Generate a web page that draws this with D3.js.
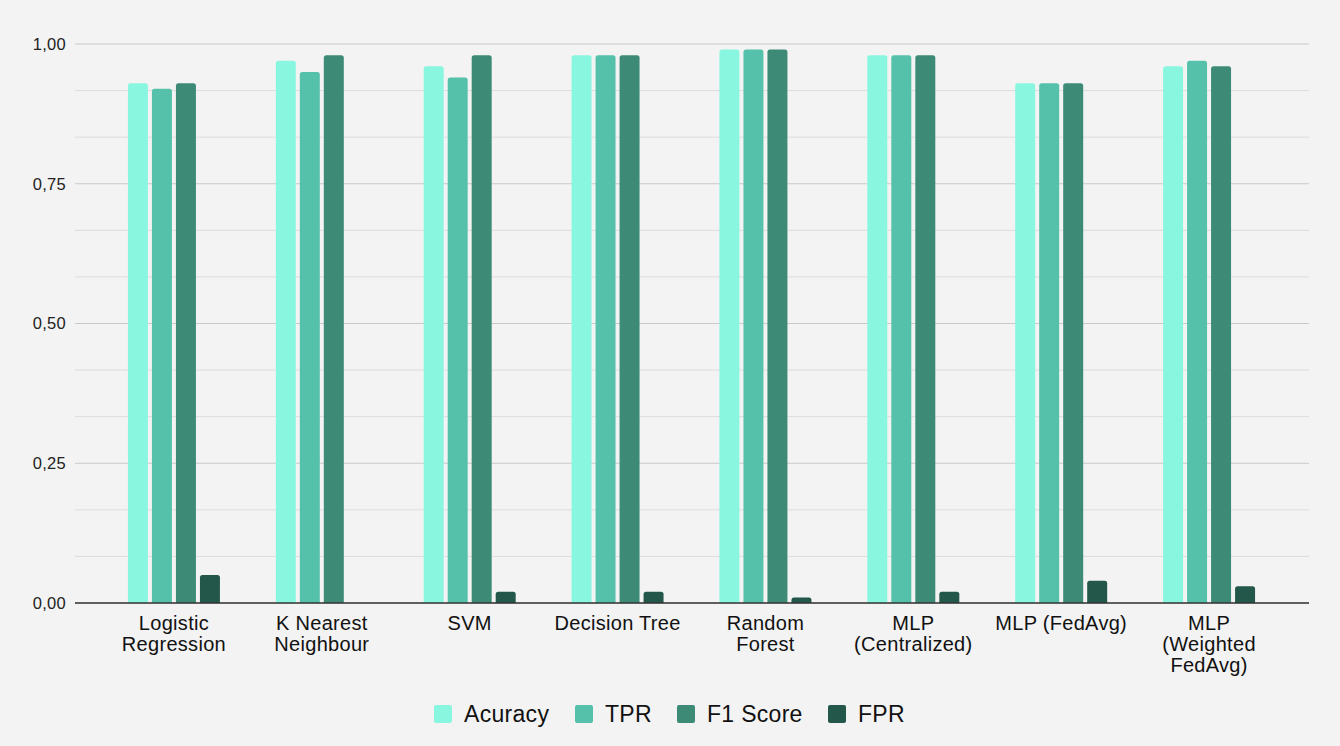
<!DOCTYPE html>
<html>
<head>
<meta charset="utf-8">
<script src="https://cdn.jsdelivr.net/npm/d3@7"></script>
<style>
  body { margin: 0; background: #f3f3f3; }
  svg { display: block; font-family: "Liberation Sans", Arial, sans-serif; }
</style>
</head>
<body>
<div id="chart"></div>
<script>
// chart data
const categories = ["Logistic\nRegression", "K Nearest\nNeighbour", "SVM", "Decision Tree",
                    "Random\nForest", "MLP\n(Centralized)", "MLP (FedAvg)", "MLP\n(Weighted\nFedAvg)"];
const series = ["Acurary", "TPR", "F1 Score", "FPR"];
const seriesLabels = ["Acuracy", "TPR", "F1 Score", "FPR"];
const accuracy = [0.93, 0.97, 0.96, 0.98, 0.99, 0.98, 0.93, 0.96];
const tpr      = [0.92, 0.95, 0.94, 0.98, 0.99, 0.98, 0.93, 0.97];
const f1       = [0.93, 0.98, 0.98, 0.98, 0.99, 0.98, 0.93, 0.96];
const fpr      = [0.05, 0.00, 0.02, 0.02, 0.01, 0.02, 0.04, 0.03];
const yTicks = [0, 0.25, 0.5, 0.75, 1];

const colors = ["#89f7e0", "#56c1aa", "#3d8a76", "#22574a"];
const values = [accuracy, tpr, f1, fpr];

const width = 1340, height = 746;
const margin = {top: 44, left: 75, right: 31, bottom: 143};

let svg = d3.select("#chart").append("svg")
            .attr("width", width)
            .attr("height", height);

svg.append("rect").attr("width", width).attr("height", height).attr("fill", "#f3f3f3");

let yScale = d3.scaleLinear()
               .domain([0, 1])
               .range([height - margin.bottom, margin.top]);

let xScale = d3.scaleBand()
               .domain(categories)
               .range([100, 1283]);

let subScale = d3.scaleBand()
                 .domain(series)
                 .range([0, 92])
                 .paddingInner(0.167);

// gridlines (minor every 1/12, major every 0.25)
const minor = d3.range(0, 13).map(i => i / 12);
svg.append("g").selectAll("line")
   .data(minor)
   .enter()
   .append("line")
   .attr("x1", margin.left)
   .attr("x2", width - margin.right)
   .attr("y1", d => yScale(d))
   .attr("y2", d => yScale(d))
   .style("stroke", (d, i) => i % 3 === 0 ? "#c9c9c9" : "#dcdcdc")
   .style("stroke-width", 1);

// y tick labels
svg.append("g").selectAll("text")
   .data(yTicks)
   .enter()
   .append("text")
   .attr("x", 66)
   .attr("y", d => yScale(d))
   .attr("dy", "0.35em")
   .attr("text-anchor", "end")
   .style("font-size", "16.5px")
   .style("letter-spacing", "0.3px")
   .style("fill", "#222")
   .text(d => d3.format(".2f")(d).replace(".", ","));

// bars
const groups = svg.append("g").selectAll("g")
   .data(categories)
   .enter()
   .append("g")
   .attr("transform", d => "translate(" + (xScale(d) + xScale.bandwidth() / 2 - 46) + ",0)");

groups.selectAll("path")
   .data((d, ci) => series.map((s, si) => ({s: s, si: si, v: values[si][ci]})))
   .enter()
   .filter(d => d.v > 0)
   .append("path")
   .attr("d", function(d) {
       const x0 = subScale(d.s), w = subScale.bandwidth();
       const y0 = yScale(0), y1 = yScale(d.v), r = 2.5;
       return "M" + x0 + "," + y0 + "V" + (y1 + r) +
              "Q" + x0 + "," + y1 + " " + (x0 + r) + "," + y1 +
              "H" + (x0 + w - r) +
              "Q" + (x0 + w) + "," + y1 + " " + (x0 + w) + "," + (y1 + r) +
              "V" + y0 + "Z";
   })
   .style("fill", d => colors[d.si]);

// baseline
svg.append("line")
   .attr("x1", margin.left)
   .attr("x2", width - margin.right)
   .attr("y1", yScale(0))
   .attr("y2", yScale(0))
   .style("stroke", "#333")
   .style("stroke-width", 1.5);

// category labels
svg.append("g").selectAll("text")
   .data(categories)
   .enter()
   .append("text")
   .attr("x", d => xScale(d) + xScale.bandwidth() / 2)
   .attr("y", 630)
   .attr("text-anchor", "middle")
   .style("font-size", "20px")
   .style("letter-spacing", "0.3px")
   .style("fill", "#111")
   .each(function(d) {
       d3.select(this).selectAll("tspan")
         .data(d.split("\n"))
         .enter()
         .append("tspan")
         .attr("x", xScale(d) + xScale.bandwidth() / 2)
         .attr("dy", (t, i) => i === 0 ? 0 : 21)
         .text(t => t);
   });

// legend
const legendX = [434, 575, 677, 828];
const legend = svg.append("g").selectAll("g")
   .data(series)
   .enter()
   .append("g")
   .attr("transform", (d, i) => "translate(" + legendX[i] + ",705)");

legend.append("rect")
   .attr("width", 18).attr("height", 18).attr("rx", 2)
   .style("fill", (d, i) => colors[i]);

legend.append("text")
   .attr("x", 30).attr("y", 9).attr("dy", "0.36em")
   .style("font-size", "23px")
   .style("letter-spacing", "0.3px")
   .style("fill", "#111")
   .text((d, i) => seriesLabels[i]);
</script>
</body>
</html>
